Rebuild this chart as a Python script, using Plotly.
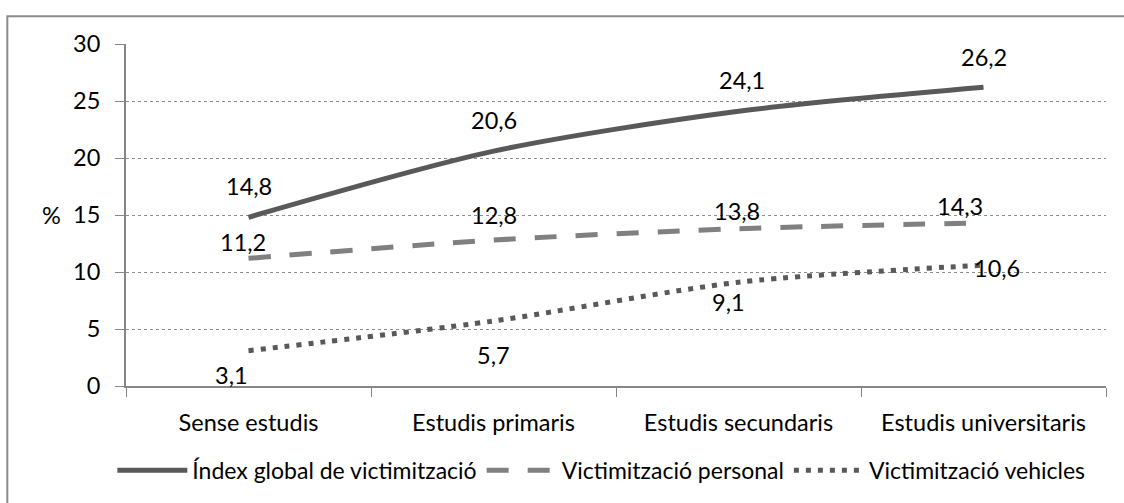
import plotly.graph_objects as go

categories = ["Sense estudis", "Estudis primaris", "Estudis secundaris", "Estudis universitaris"]
index_global = [14.8, 20.6, 24.1, 26.2]
personal = [11.2, 12.8, 13.8, 14.3]
vehicles = [3.1, 5.7, 9.1, 10.6]
series_names = ["Índex global de victimització", "Victimització personal", "Victimització vehicles"]
y_ticks = [0, 5, 10, 15, 20, 25, 30]

FONT = "Lato"
FS = 23.5

fig = go.Figure()
fig.add_trace(go.Scatter(x=categories, y=index_global, name=series_names[0], mode="lines",
                         line=dict(color="#595959", width=5, shape="spline", smoothing=0.8)))
fig.add_trace(go.Scatter(x=categories, y=personal, name=series_names[1], mode="lines",
                         line=dict(color="#808080", width=5, dash="22px,19px", shape="spline", smoothing=0.8)))
fig.add_trace(go.Scatter(x=categories, y=vehicles, name=series_names[2], mode="lines",
                         line=dict(color="#595959", width=5, dash="5px,7px", shape="spline", smoothing=0.8)))

# data label offsets (pixels): (xshift, yshift)
offsets = [
    [(0, 31), (0, 31), (3, 31), (0, 30)],
    [(-6, 16), (0, 25), (-2, 18), (-24, 17)],
    [(-17, -24), (0, -34), (-10, -20), (13, -3)],
]
annotations = []
for vals, offs in zip([index_global, personal, vehicles], offsets):
    for c, v, (dx, dy) in zip(categories, vals, offs):
        annotations.append(dict(x=c, y=v, xref="x", yref="y", text=f"{v:.1f}".replace(".", ","),
                                showarrow=False, xshift=dx, yshift=dy,
                                font=dict(family=FONT, size=FS, color="#000000")))
annotations.append(dict(x=-0.0758, y=15, xref="paper", yref="y", text="%", showarrow=False,
                        xanchor="center", font=dict(family=FONT, size=FS, color="#000000")))

fig.update_layout(
    width=1124, height=503,
    margin=dict(l=126, r=18, t=43.5, b=117, autoexpand=False),
    paper_bgcolor="white", plot_bgcolor="white",
    font=dict(family=FONT, size=FS, color="#000000"),
    showlegend=True,
    legend=dict(orientation="h", x=0.535, xanchor="center", xref="container",
                y=0.065, yref="container", yanchor="middle",
                font=dict(family=FONT, size=23), itemwidth=70, tracegroupgap=0),
    annotations=annotations,
    shapes=[dict(type="rect", xref="paper", yref="paper", x0=-0.1211, x1=1.05, y0=-0.36, y1=1.081,
                 line=dict(color="#8c8c8c", width=2), fillcolor="rgba(0,0,0,0)", layer="below")],
)
fig.update_xaxes(
    type="category", range=[-0.5, 3.5], tickson="boundaries", ticks="outside", ticklen=9,
    tickcolor="#868686", automargin=False,
    showline=True, linecolor="#868686", linewidth=2, showgrid=False,
    ticklabelstandoff=15, tickfont=dict(family=FONT, size=FS, color="#000000"),
)
fig.update_yaxes(
    range=[0, 30], tickvals=y_ticks, ticktext=[str(t) for t in y_ticks],
    ticks="outside", ticklen=9, tickcolor="#868686", automargin=False,
    showline=True, linecolor="#868686", linewidth=2,
    showgrid=True, gridcolor="#8c8c8c", griddash="dot", gridwidth=1,
    zeroline=False, ticklabelstandoff=10,
    tickfont=dict(family=FONT, size=FS, color="#000000"),
)
fig.write_html("out.html", config={"displayModeBar": False},
               post_script="document.body.style.margin='0';")
